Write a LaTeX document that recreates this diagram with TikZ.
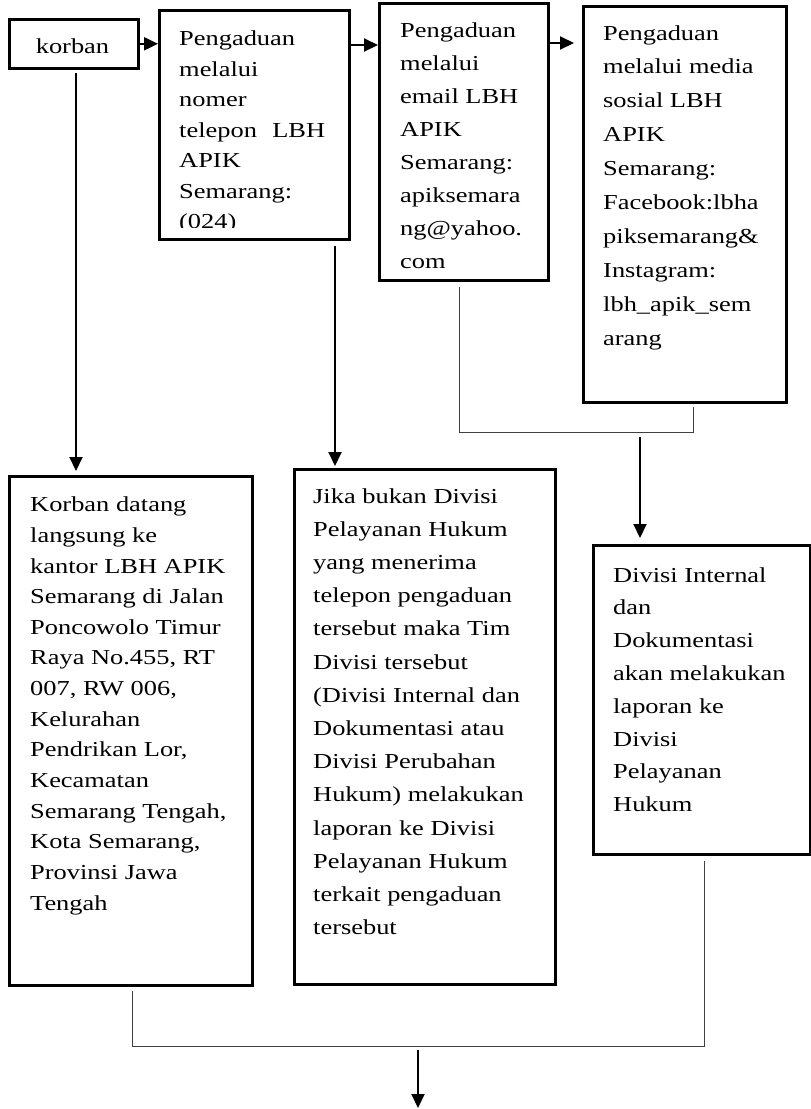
\documentclass[tikz,border=0pt]{standalone}
\usepackage{graphicx}
\usepackage{fontspec}
\setmainfont{Liberation Serif}
\usetikzlibrary{arrows.meta}
\newcommand\txtlines[2]{\scalebox{1.24}[1]{\vtop{\baselineskip=#1\relax\lineskiplimit=-100pt\lineskip=0pt #2}}}
\tikzset{
  box/.style={draw, line width=2.6pt, inner sep=0pt, rectangle, anchor=north west},
  arr/.style={line width=2pt, -{Triangle[length=14pt,width=13pt]}},
  thinline/.style={line width=0.9pt, draw=black!75},
  txt/.style={anchor=base west, inner sep=0pt, font=\fontsize{21.3}{30}\selectfont},
}
\begin{document}
\begin{tikzpicture}[x=1pt,y=-1pt]
\useasboundingbox (0,0) rectangle (811,1109);
% boxes
\node[box, minimum width=129pt, minimum height=49pt] (korban) at (8,18) {};
\node[box, minimum width=190pt, minimum height=229pt] (b2) at (158,9) {};
\node[box, minimum width=169pt, minimum height=277pt] (b3) at (378,2) {};
\node[box, minimum width=203pt, minimum height=396pt] (b4) at (582,5) {};
\node[box, minimum width=243pt, minimum height=509pt] (L) at (8,475) {};
\node[box, minimum width=261pt, minimum height=515pt] (M) at (293,468) {};
\node[box, minimum width=217pt, minimum height=309pt] (R) at (592,544) {};
% texts
\node[txt, anchor=base] (tk) at (72.5,53) {\scalebox{1.24}[1]{korban}};
\begin{scope}
\clip (158,9) rectangle (348,227);
\node[txt] (t2) at (179,45.5) {\txtlines{30.5pt}{\hbox{Pengaduan}\hbox{melalui}\hbox{nomer}\hbox to 117.7pt{telepon\hfill LBH}\hbox{APIK}\hbox{Semarang:}\hbox{(024)}}};
\end{scope}
\node[txt] (t3) at (400,37.3) {\txtlines{33pt}{\hbox{Pengaduan}\hbox{melalui}\hbox{email LBH}\hbox{APIK}\hbox{Semarang:}\hbox{apiksemara}\hbox{ng@yahoo.}\hbox{com}}};
\node[txt] (t4) at (603,40) {\txtlines{33.9pt}{\hbox{Pengaduan}\hbox{melalui media}\hbox{sosial LBH}\hbox{APIK}\hbox{Semarang:}\hbox{Facebook:lbha}\hbox{piksemarang\&}\hbox{Instagram:}\hbox{lbh\_apik\_sem}\hbox{arang}}};
\node[txt] (tL) at (30,511.7) {\txtlines{30.65pt}{\hbox{Korban datang}\hbox{langsung ke}\hbox{kantor LBH APIK}\hbox{Semarang di Jalan}\hbox{Poncowolo Timur}\hbox{Raya No.455, RT}\hbox{007, RW 006,}\hbox{Kelurahan}\hbox{Pendrikan Lor,}\hbox{Kecamatan}\hbox{Semarang Tengah,}\hbox{Kota Semarang,}\hbox{Provinsi Jawa}\hbox{Tengah}}};
\node[txt] (tM) at (313,503) {\txtlines{33.2pt}{\hbox{Jika bukan Divisi}\hbox{Pelayanan Hukum}\hbox{yang menerima}\hbox{telepon pengaduan}\hbox{tersebut maka Tim}\hbox{Divisi tersebut}\hbox{(Divisi Internal dan}\hbox{Dokumentasi atau}\hbox{Divisi Perubahan}\hbox{Hukum) melakukan}\hbox{laporan ke Divisi}\hbox{Pelayanan Hukum}\hbox{terkait pengaduan}\hbox{tersebut}}};
\node[txt] (tR) at (613,582) {\txtlines{32.8pt}{\hbox{Divisi Internal}\hbox{dan}\hbox{Dokumentasi}\hbox{akan melakukan}\hbox{laporan ke}\hbox{Divisi}\hbox{Pelayanan}\hbox{Hukum}}};
% connectors
\coordinate (c34) at (574,43);
\coordinate (j1) at (459,432);
\coordinate (j2) at (693,432);
\coordinate (j3) at (640,437);
\coordinate (k1) at (132,1046);
\coordinate (k2) at (704,1046);
\coordinate (k3) at (418,1050);
\coordinate (kend) at (418,1108);
\draw[arr] (korban.east) -- (b2.west |- korban.east);
\draw[arr] (b2.east |- 0,45) -- (b3.west |- 0,45);
\draw[arr] (b3.east |- c34) -- (c34);
\draw[arr, shorten <=3pt, shorten >=4pt] (korban.south -| 76,0) -- (L.north -| 76,0);
\draw[arr, shorten <=5pt, shorten >=2pt] (b2.south -| 335,0) -- (M.north -| 335,0);
\draw[thinline, shorten <=5pt] (b3.south -| j1) -- (j1) -- (j2) -- ([yshift=-3pt]b4.south -| j2);
\draw[arr, shorten >=6pt] (j3) -- (R.north -| j3);
\draw[thinline, shorten <=4pt] (L.south -| k1) -- (k1) -- (k2) -- ([yshift=-5pt]R.south -| k2);
\draw[arr] (k3) -- (kend);
\end{tikzpicture}
\end{document}
